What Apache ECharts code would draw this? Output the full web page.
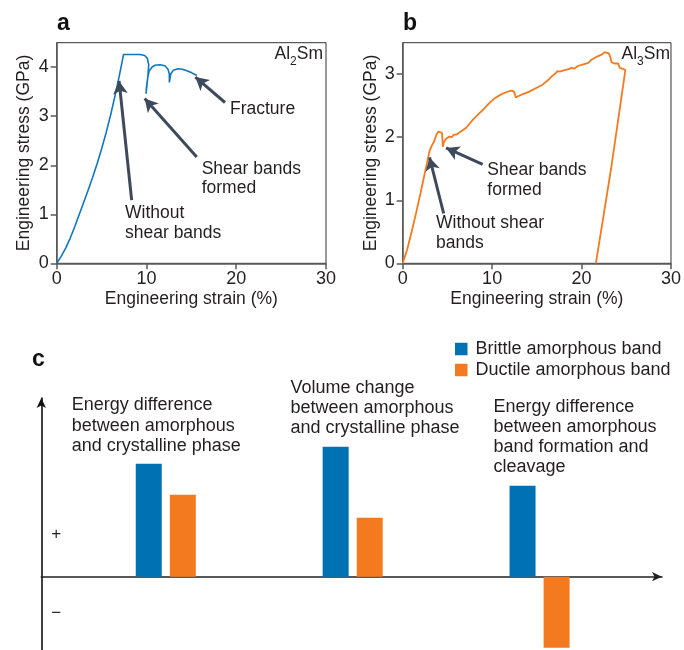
<!DOCTYPE html>
<html>
<head>
<meta charset="utf-8">
<script src="https://cdn.jsdelivr.net/npm/echarts@6/dist/echarts.min.js"></script>
<style>
html,body{margin:0;padding:0;background:#fff;}
#main{width:684px;height:650px;}
</style>
</head>
<body>
<div id="main"></div>
<script>
// ---------- Panel a : Al2Sm ----------
const strainA = [0,0.5,1.0,1.5,2.0,2.5,3.0,3.5,4.0,4.5,5.0,5.5,6.0,6.5,7.0,7.45,8.5,9.3,9.8,10.1,10.25,10.15,9.95,9.85,10.0,10.15,10.3,10.6,10.95,11.5,12.05,12.4,12.55,12.55,12.7,13.0,13.5,14.0,14.5,15.0,15.6];
const stressA = [0,0.14,0.31,0.51,0.74,0.99,1.24,1.49,1.75,2.03,2.33,2.66,3.02,3.42,3.85,4.26,4.26,4.26,4.24,4.18,4.05,3.8,3.46,3.42,3.6,3.8,3.92,4.0,4.04,4.05,4.03,3.96,3.86,3.69,3.86,3.94,3.97,3.96,3.93,3.89,3.83];
// ---------- Panel b : Al3Sm ----------
const strainB = [0,0.5,1.0,1.5,2.0,2.5,3.0,3.2,3.5,3.77,4.0,4.14,4.39,4.45,4.5,4.6,4.88,5.1,5.24,5.5,5.7,5.99,6.5,7.1,7.8,8.5,9.0,9.68,10.3,11.0,11.5,11.9,12.2,12.45,12.55,12.64,12.9,13.37,14.1,15.2,15.6,16.2,16.7,17.07,17.3,17.6,18.0,18.2,18.55,18.9,19.2,19.6,20.0,20.77,21.1,21.6,22.24,22.6,22.8,23.05,23.2,23.35,23.7,24.1,24.28,24.5,24.9,23.3,21.6];
const stressB = [0,0.22,0.5,0.8,1.12,1.45,1.78,1.85,1.93,2.04,2.09,2.1,2.07,1.95,1.85,1.92,1.98,1.97,2.01,2.0,2.04,2.04,2.09,2.15,2.27,2.37,2.44,2.54,2.62,2.68,2.71,2.73,2.74,2.72,2.68,2.63,2.65,2.68,2.72,2.8,2.83,2.9,2.97,3.01,3.05,3.04,3.06,3.05,3.08,3.1,3.09,3.13,3.15,3.18,3.23,3.27,3.31,3.35,3.36,3.33,3.28,3.19,3.17,3.17,3.1,3.08,3.07,1.5,0];
const strainTicks = [0,10,20,30];
// ---------- Panel c ----------
const categoriesC = ['Energy difference\nbetween amorphous\nand crystalline phase','Volume change\nbetween amorphous\nand crystalline phase','Energy difference\nbetween amorphous\nband formation and\ncleavage'];
const brittleValues = [113,130,91];
const ductileValues = [82,59,-71];
const signLabels = {plus:42, minus:-37};

const FONT = '"Liberation Sans", Arial, sans-serif';
const TXT = '#231f20';
const ARROW = '#3e4a5b';
const BLUE_LINE = '#1177bb';
const ORANGE = '#f47a20';
const BLUE = '#0071b3';

function pairs(xs, ys){ return xs.map((x,i)=>[x, ys[i]]); }

function strainAxis(gridIndex){
  return {
    type:'value', gridIndex, min:strainTicks[0], max:strainTicks[strainTicks.length-1], interval:strainTicks[1]-strainTicks[0],
    name:'Engineering strain (%)', nameLocation:'middle', nameGap:27,
    nameTextStyle:{fontFamily:FONT, fontSize:17.5, color:TXT},
    axisLine:{show:true, onZero:false, lineStyle:{color:'#5a5a5a', width:1.5}},
    axisTick:{show:true, length:6, lineStyle:{color:'#5a5a5a', width:1.5}},
    axisLabel:{fontFamily:FONT, fontSize:18, color:TXT, margin:7},
    splitLine:{show:false}
  };
}
function stressAxis(gridIndex, max, gap){
  return {
    type:'value', gridIndex, min:0, max, interval:1,
    name:'Engineering stress (GPa)', nameLocation:'middle', nameGap:gap,
    nameTextStyle:{fontFamily:FONT, fontSize:17.5, color:TXT},
    axisLine:{show:true, onZero:false, lineStyle:{color:'#5a5a5a', width:1.5}},
    axisTick:{show:true, length:6, lineStyle:{color:'#5a5a5a', width:1.5}},
    axisLabel:{fontFamily:FONT, fontSize:18, color:TXT, margin:8, showMaxLabel:false},
    splitLine:{show:false}
  };
}
function arrows(list){
  return {
    silent:true, symbol:['none','arrow'], symbolSize:12,
    lineStyle:{color:ARROW, width:3, type:'solid'},
    itemStyle:{color:ARROW},
    label:{show:false}, emphasis:{disabled:true},
    data:list.map(a=>[{coord:a[0], symbol:'none'},{coord:a[1], symbol:'arrow', symbolSize:[11,13]}])
  };
}
function txt(x, y, text, extra){
  return Object.assign({type:'text', x, y, silent:true,
    style:Object.assign({text, fill:TXT, fontFamily:FONT, fontSize:17.5, lineHeight:20, verticalAlign:'top'}, extra||{})});
}
function formula(x, y, sub){
  return {type:'text', x, y, silent:true, style:{text:'{n|Al}{s|'+sub+'}{n|Sm}', align:'right', verticalAlign:'top', fill:TXT, fontFamily:FONT,
    rich:{n:{fontSize:17.5, fontFamily:FONT, fill:TXT, lineHeight:22, verticalAlign:'top'},
          s:{fontSize:12, fontFamily:FONT, fill:TXT, lineHeight:22, verticalAlign:'bottom', padding:[0,0,-1,0]}}}};
}

const chart = echarts.init(document.getElementById('main'), null, {renderer:'canvas'});
const option = {
  animation:false,
  backgroundColor:'#fff',
  grid:[
    {left:56.7, width:269.3, top:42.7, height:220.6, show:true, borderColor:'#333', borderWidth:1},
    {left:402.7, width:270.6, top:42.7, height:220.6, show:true, borderColor:'#333', borderWidth:1},
    {left:41.3, width:620.7, top:398, height:252}
  ],
  xAxis:[
    strainAxis(0), strainAxis(1),
    {type:'value', gridIndex:2, min:0.334, max:3.655,
     axisLine:{show:true, onZero:true, symbol:['none','arrow'], symbolSize:[7,10], lineStyle:{color:'#222', width:1.6}},
     axisTick:{show:false}, axisLabel:{show:false}, splitLine:{show:false}}
  ],
  yAxis:[
    stressAxis(0, 4.5, 24), stressAxis(1, 3.5, 23),
    {type:'value', gridIndex:2, min:-73.3, max:178.7,
     axisLine:{show:true, onZero:false, symbol:['none','arrow'], symbolSize:[7,10], lineStyle:{color:'#111', width:1.6}},
     axisTick:{show:false}, splitLine:{show:false},
     axisLabel:{show:true, inside:true, margin:10, fontFamily:FONT, fontSize:17, color:TXT,
       customValues:[signLabels.plus, signLabels.minus],
       formatter:v=> v>0 ? '+' : '\u2212'}}
  ],
  legend:{
    data:['Brittle amorphous band','Ductile amorphous band'],
    orient:'vertical', left:450, top:335, itemWidth:12.5, itemHeight:12.5, itemGap:3,
    icon:'rect', selectedMode:false,
    textStyle:{fontFamily:FONT, fontSize:18, color:TXT, lineHeight:18, padding:[0,0,0,3]}
  },
  series:[
    {type:'line', xAxisIndex:0, yAxisIndex:0, data:pairs(strainA, stressA), showSymbol:false, symbol:'none',
     lineStyle:{color:BLUE_LINE, width:1.6}, silent:true,
     markLine:arrows([[[8.35,1.29],[6.95,3.72]],[[15.6,2.17],[9.8,3.36]],[[18.75,3.28],[15.45,3.8]]])},
    {type:'line', xAxisIndex:1, yAxisIndex:1, data:pairs(strainB, stressB), showSymbol:false, symbol:'none',
     lineStyle:{color:ORANGE, width:1.8}, silent:true,
     markLine:arrows([[[4.58,0.79],[3.0,1.68]],[[8.94,1.57],[4.85,1.83]]])},
    {type:'bar', name:'Brittle amorphous band', xAxisIndex:2, yAxisIndex:2, barWidth:26, barGap:'31%',
     itemStyle:{color:BLUE}, data:brittleValues.map((v,i)=>[i+1, v]), silent:true},
    {type:'bar', name:'Ductile amorphous band', xAxisIndex:2, yAxisIndex:2, barWidth:26, barGap:'31%',
     itemStyle:{color:ORANGE}, data:ductileValues.map((v,i)=>[i+1, v]), silent:true}
  ],
  graphic:[
    txt(57, 14, 'a', {fontSize:23, fontWeight:'bold', fill:'#111'}),
    txt(403, 14, 'b', {fontSize:23, fontWeight:'bold', fill:'#111'}),
    txt(32, 350, 'c', {fontSize:23, fontWeight:'bold', fill:'#111'}),
    txt(125, 203, 'Without\nshear bands'),
    txt(201.7, 159, 'Shear bands\nformed', {lineHeight:19.5}),
    txt(230, 99, 'Fracture'),
    txt(487.3, 160.7, 'Shear bands\nformed', {lineHeight:19.5}),
    txt(436, 212.7, 'Without shear\nbands'),
    formula(323, 45, '2'),
    formula(670, 45, '3'),
    txt(71.7, 395, categoriesC[0], {fontSize:18, lineHeight:20.5}),
    txt(290.4, 378, categoriesC[1], {fontSize:18, lineHeight:20}),
    txt(493.5, 397, categoriesC[2], {fontSize:18, lineHeight:20})
  ]
};
chart.setOption(option);
</script>
</body>
</html>
